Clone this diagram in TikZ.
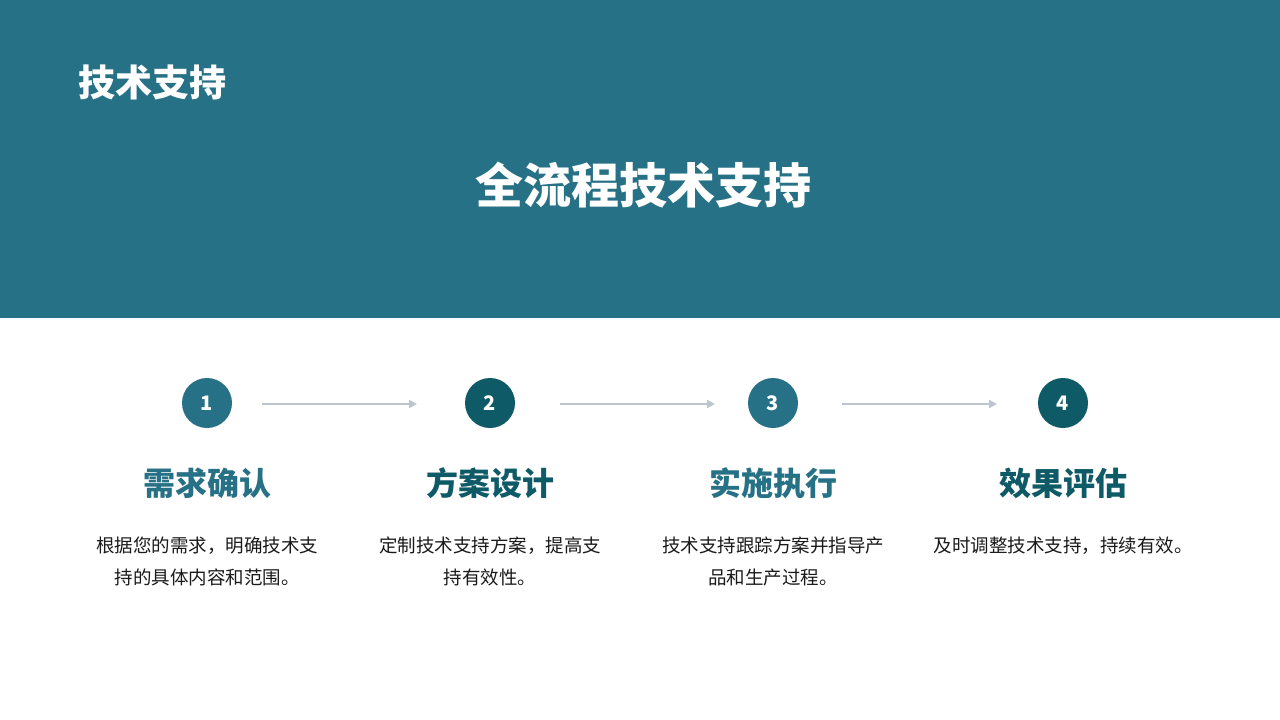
\documentclass[tikz,border=0pt]{standalone}
\usepackage{fontspec}
\setmainfont{Noto Sans CJK SC}
\usetikzlibrary{arrows.meta}
\definecolor{band}{HTML}{277186}
\definecolor{darkteal}{HTML}{0E5A66}
\definecolor{arrowgray}{HTML}{BFC5CE}
\definecolor{desctext}{HTML}{1A1A1A}
\tikzset{
  stepcircle/.style={circle, minimum size=50pt, inner sep=0pt, text=white, font=\fontsize{20}{20}\selectfont\bfseries},
  steptitle/.style={font=\fontsize{32}{32}\selectfont\bfseries, inner sep=0pt},
  stepdesc/.style={font=\fontsize{18.5}{32}\selectfont, text=desctext, align=center, inner sep=0pt, anchor=north},
  flowarrow/.style={draw=arrowgray, line width=2pt, -{Triangle[length=8pt,width=8pt]}}
}
\begin{document}
\begin{tikzpicture}[x=1pt,y=-1pt]
\useasboundingbox (0,0) rectangle (1280,720);
\fill[white] (0,0) rectangle (1280,720);
\fill[band] (0,0) rectangle (1280,318);
\node[anchor=west, text=white, font=\fontsize{37}{37}\selectfont\bfseries, inner sep=0pt] (head) at (78,82) {技术支持};
\node[text=white, font=\fontsize{48}{48}\selectfont\bfseries, inner sep=0pt] (maintitle) at (643,185) {全流程技术支持};

\node[stepcircle, fill=band] (c1) at (207,403) {1};
\node[stepcircle, fill=darkteal] (c2) at (490,403) {2};
\node[stepcircle, fill=band] (c3) at (773,403) {3};
\node[stepcircle, fill=darkteal] (c4) at (1063,403) {4};

\coordinate (a1s) at (262,404); \coordinate (a1e) at (417,404);
\coordinate (a2s) at (560,404); \coordinate (a2e) at (715,404);
\coordinate (a3s) at (842,404); \coordinate (a3e) at (997,404);
\draw[flowarrow] (a1s) -- (a1e);
\draw[flowarrow] (a2s) -- (a2e);
\draw[flowarrow] (a3s) -- (a3e);

\node[steptitle, text=band] (t1) at (207,483) {需求确认};
\node[steptitle, text=darkteal] (t2) at (490,483) {方案设计};
\node[steptitle, text=band] (t3) at (773,483) {实施执行};
\node[steptitle, text=darkteal] (t4) at (1063,483) {效果评估};

\node[stepdesc] (d1) at (207,537) {根据您的需求，明确技术支\\持的具体内容和范围。};
\node[stepdesc] (d2) at (490,537) {定制技术支持方案，提高支\\持有效性。};
\node[stepdesc] (d3) at (773,537) {技术支持跟踪方案并指导产\\品和生产过程。};
\node[stepdesc] (d4) at (1063,537) {及时调整技术支持，持续有效。};
\end{tikzpicture}
\end{document}
